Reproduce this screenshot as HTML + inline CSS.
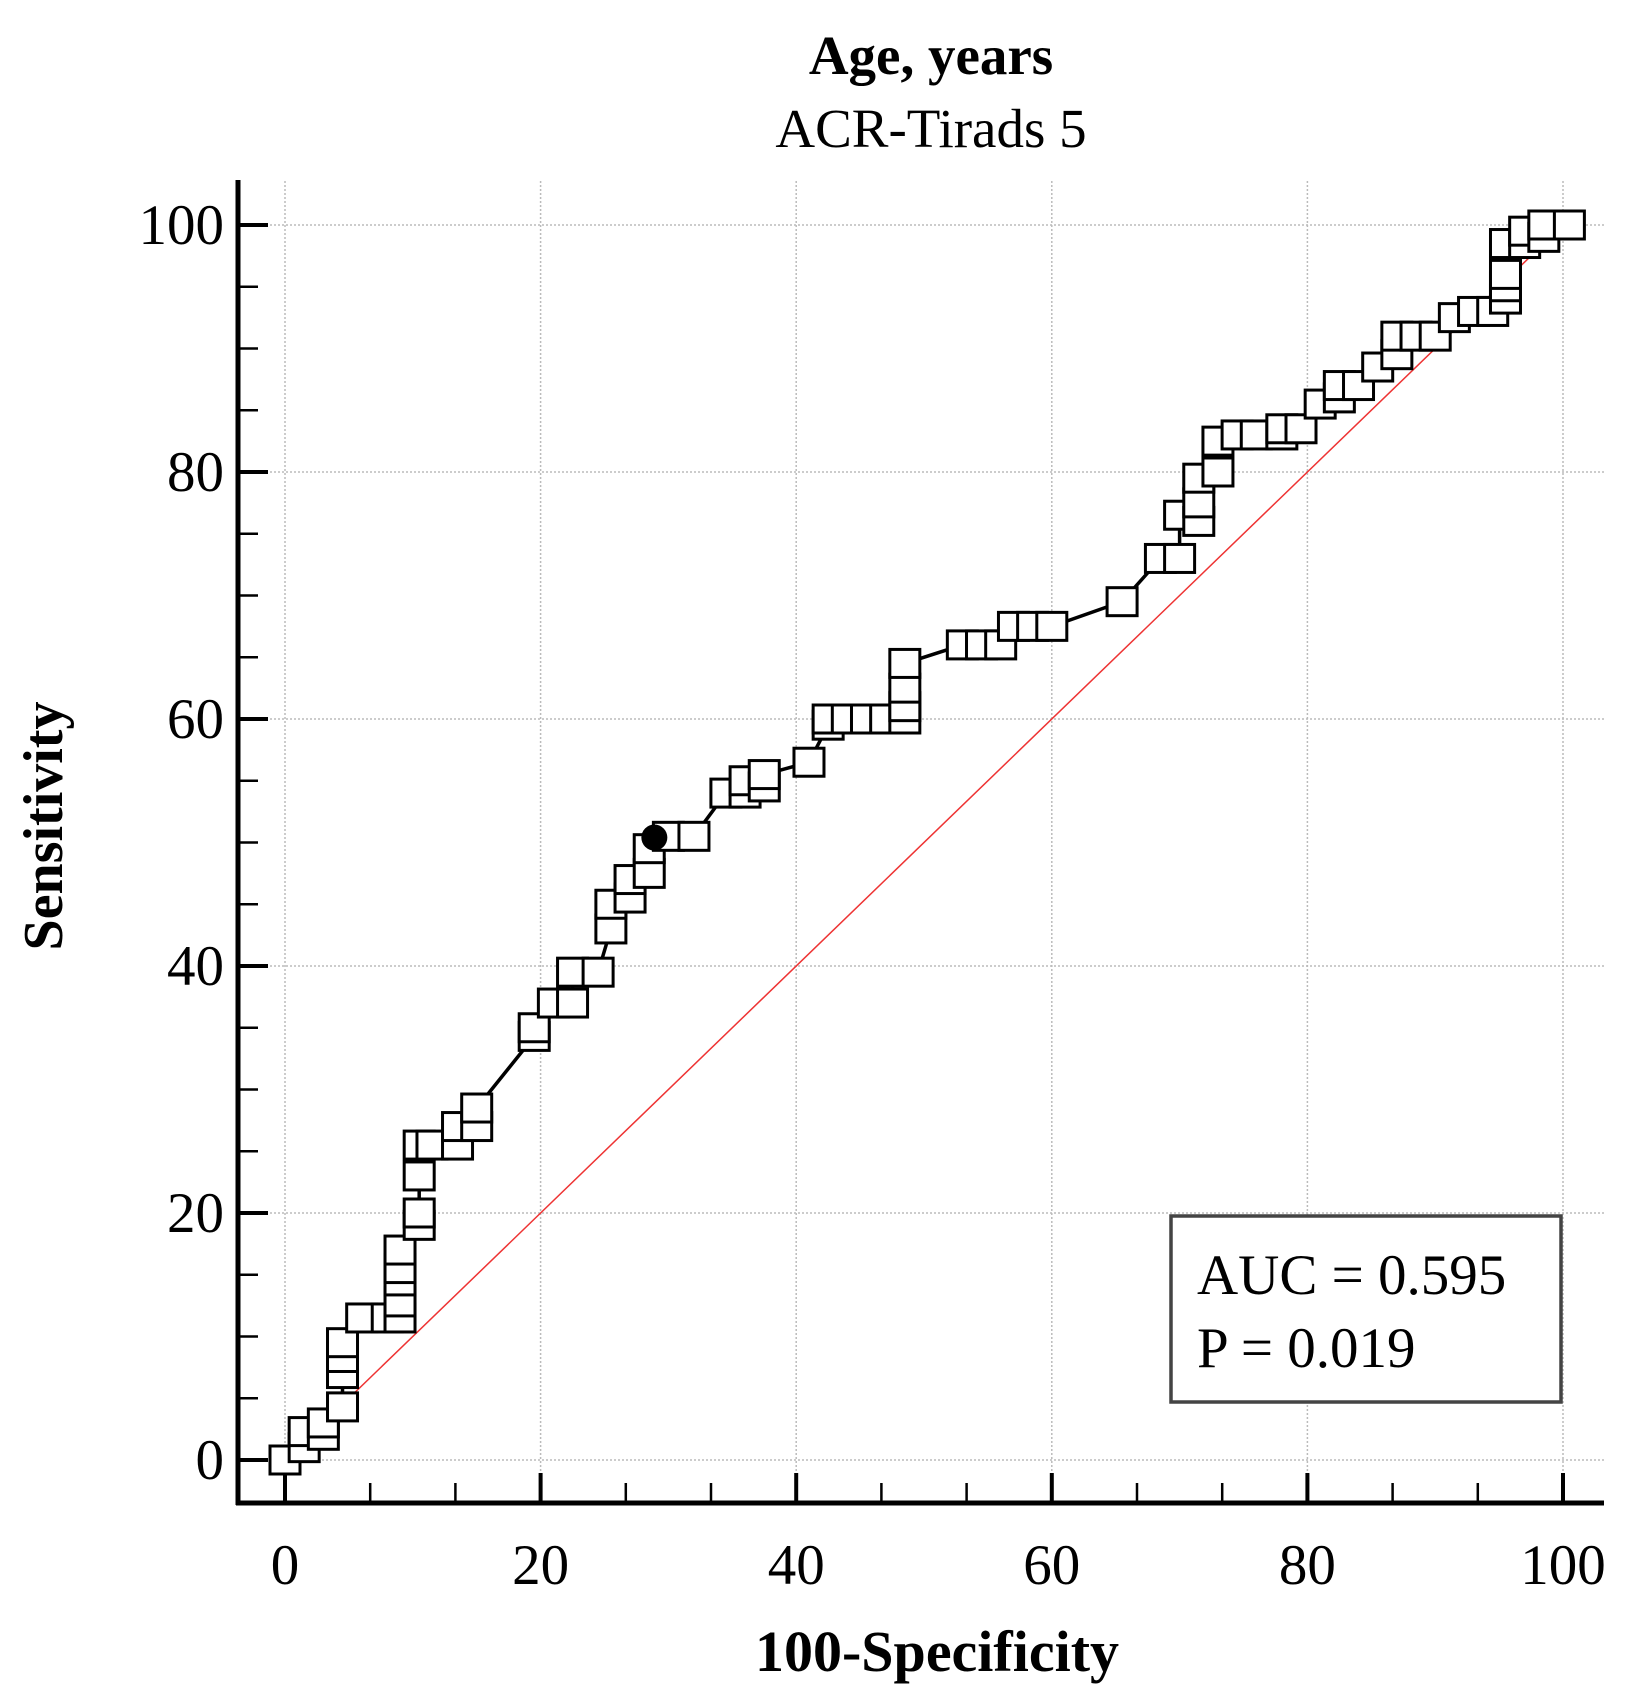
<!DOCTYPE html>
<html><head><meta charset="utf-8"><style>
body{margin:0;background:#fff}
svg{display:block;font-family:"Liberation Serif",serif}
</style></head><body>
<svg id="c" width="1642" height="1702">
<text x="931" y="74" text-anchor="middle" font-size="55" font-weight="bold">Age, years</text>
<text x="931" y="147" text-anchor="middle" font-size="55">ACR-Tirads 5</text>
<g id="grid"></g><g id="axes"></g><g id="marks"></g>
<text x="937" y="1671" text-anchor="middle" font-size="58" font-weight="bold">100-Specificity</text>
<text transform="translate(62,826) rotate(-90)" text-anchor="middle" font-size="56" font-weight="bold">Sensitivity</text>
<g>
<rect x="1171" y="1216" width="390" height="186" fill="#fff" stroke="#444" stroke-width="3.5"/>
<text x="1197" y="1294" font-size="57">AUC = 0.595</text>
<text x="1197" y="1367" font-size="57">P = 0.019</text>
</g>
</svg>
<script>
const fprValues=[0,1.5,1.5,3,3,4.5,4.5,4.5,4.5,6,8,9,9,9,9,9,10.5,10.5,10.5,10.5,11.5,13.5,13.5,15,15,19.5,19.5,21,22.5,22.5,24.5,25.5,25.5,27,27,28.5,28.5,30,32,34.5,36,36,37.5,37.5,41,42.5,42.5,44,45.5,47,48.5,48.5,48.5,48.5,53,54.5,56,57,58.5,60,65.5,68.5,70,70,71.5,71.5,71.5,73,73,74.5,76,78,78,79.5,81,82.5,82.5,84,85.5,87,87,88.5,90,91.5,93,94.5,95.5,95.5,95.5,95.5,97,97,98.5,98.5,100.5];
const sensValues=[0,1,2.3,2,3,4.3,7,8.3,9.5,11.5,11.5,11.5,12.8,14.5,15.5,17,19,20,23,25.5,25.5,25.5,27,27,28.5,34.3,35,37,37,39.5,39.5,43,45,45.5,47,47.5,49.5,50.5,50.5,54,54,55,54.5,55.5,56.5,59.5,60,60,60,60,60,61,62.5,64.5,66,66,66,67.5,67.5,67.5,69.5,73,73,76.5,76,77.5,79.5,80,82.5,83,83,83,83.5,83.5,85.5,86,87,87,88.5,89.5,91,91,91,92.5,93,93,94,95,96,98.5,98.5,99.5,99,100,100];
const criterionPoint=[28.9,50.4];
const xTicks=[0,20,40,60,80,100];
const yTicks=[0,20,40,60,80,100];
const NS="http://www.w3.org/2000/svg";
const X=v=>285+v*12.78, Y=v=>1460-v*12.35;
function mk(tag,attrs,parent){const e=document.createElementNS(NS,tag);for(const k in attrs)e.setAttribute(k,attrs[k]);parent.appendChild(e);return e;}
const grid=document.getElementById('grid'),axes=document.getElementById('axes'),marks=document.getElementById('marks');
xTicks.forEach(t=>{const l=mk('line',{x1:X(t),x2:X(t),y1:181,y2:1503,stroke:'#bbb','stroke-width':1.5,'stroke-dasharray':'2,2'},grid);


const tx=mk('text',{x:X(t),y:1584,'text-anchor':'middle','font-size':57},axes);tx.textContent=t;

});
yTicks.forEach(t=>{const l=mk('line',{x1:238,x2:1604,y1:Y(t),y2:Y(t),stroke:'#bbb','stroke-width':1.5,'stroke-dasharray':'2,2'},grid);


const tx=mk('text',{x:224,y:Y(t)+19,'text-anchor':'end','font-size':57},axes);tx.textContent=t;

});
for(let i=0;i<=15;i++){const v=i*20/3,maj=i%3==0;mk('line',{x1:X(v),x2:X(v),y1:1503,y2:1503-(maj?30:20),stroke:'#000','stroke-width':maj?4:2.5},axes);}
for(let i=0;i<=20;i++){const v=i*5,maj=i%4==0;mk('line',{x1:238,x2:238+(maj?30:20),y1:Y(v),y2:Y(v),stroke:'#000','stroke-width':maj?4:2.5},axes);}
const ya=mk('line',{x1:238,x2:238,y1:180,y2:1505,stroke:'#000','stroke-width':5},axes);


const xa=mk('line',{x1:236,x2:1604,y1:1503,y2:1503,stroke:'#000','stroke-width':5},axes);


const diag=mk('line',{x1:X(0),y1:Y(0),x2:X(100),y2:Y(100),stroke:'#e33','stroke-width':1.5},marks);


const pts=fprValues.map((v,i)=>X(v)+','+Y(sensValues[i])).join(' ');
const pl=mk('polyline',{points:pts,fill:'none',stroke:'#000','stroke-width':3.5},marks);


fprValues.forEach((v,i)=>{const r=mk('rect',{x:X(v)-15,y:Y(sensValues[i])-14,width:30,height:28,fill:'#fff',stroke:'#000','stroke-width':3},marks);

});
const dot=mk('circle',{cx:X(criterionPoint[0]),cy:Y(criterionPoint[1]),r:13,fill:'#000'},marks);


</script>
</body></html>
